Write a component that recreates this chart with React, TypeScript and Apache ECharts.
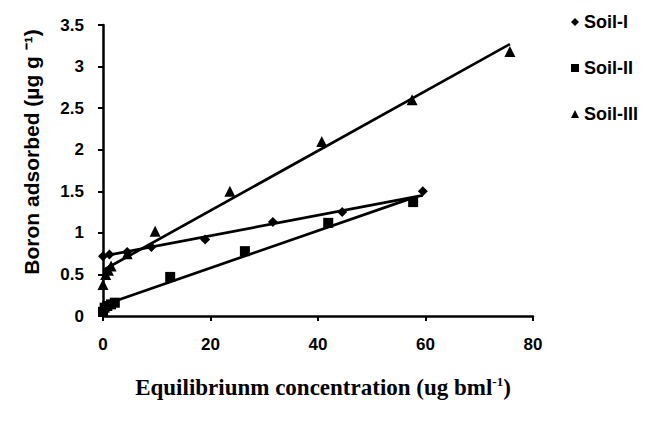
import React, { useEffect, useRef } from "react";
import * as echarts from "echarts";

const soil1X = [0, 1.2, 4.5, 9, 19, 31.6, 44.5, 59.5];
const soil1Y = [0.72, 0.74, 0.77, 0.83, 0.92, 1.13, 1.25, 1.5];
const soil2X = [0, 0.3, 0.8, 1.5, 2.2, 12.5, 26.4, 41.9, 57.7];
const soil2Y = [0.05, 0.1, 0.12, 0.14, 0.16, 0.47, 0.78, 1.12, 1.37];
const soil3X = [0, 0.5, 1, 1.5, 4.5, 9.7, 23.6, 40.7, 57.5, 75.7];
const soil3Y = [0.38, 0.5, 0.55, 0.6, 0.75, 1.02, 1.5, 2.1, 2.6, 3.18];
const fit1X = [0, 59.5];
const fit1Y = [0.72, 1.45];
const fit2X = [0, 58];
const fit2Y = [0.13, 1.43];
const fit3X = [0, 75.7];
const fit3Y = [0.55, 3.27];
const seriesNames = ["Soil-I", "Soil-II", "Soil-III"];
const xTicks = { min: 0, max: 80, interval: 20 };
const yTicks = { min: 0, max: 3.5, interval: 0.5 };
const yTitle = "Boron adsorbed (µg g ⁻¹)";

const zip = (xs: number[], ys: number[]) => xs.map((x, i) => [x, ys[i]]);

export default function App() {
  const ref = useRef<HTMLDivElement>(null);
  useEffect(() => {
    if (!ref.current) return;
    const chart = echarts.init(ref.current, null, { renderer: "svg" });
    const lineSeries = (data: number[][]) => ({
      type: "line",
      data,
      symbol: "none",
      lineStyle: { color: "#000", width: 2.7 },
      silent: true,
      z: 1,
    });
    chart.setOption({
      animation: false,
      backgroundColor: "#fff",
      grid: { left: 103, right: 114, top: 25, bottom: 105 },
      legend: {
        data: seriesNames,
        orient: "vertical",
        left: 566,
        top: 8,
        itemGap: 28,
        itemWidth: 8,
        itemHeight: 8,
        textStyle: {
          fontFamily: "Liberation Sans",
          fontWeight: "bold",
          fontSize: 18,
          color: "#000",
        },
      },
      graphic: [
        {
          type: "text",
          x: 31,
          y: 152,
          rotation: Math.PI / 2,
          style: {
            text: yTitle,
            fill: "#000",
            font: "bold 21px 'Liberation Sans'",
            align: "center",
            verticalAlign: "middle",
          },
        },
      ],
      xAxis: {
        type: "value",
        min: xTicks.min,
        max: xTicks.max,
        interval: xTicks.interval,
        axisLine: { lineStyle: { color: "#000", width: 2.5 } },
        axisTick: { show: true, length: 5, lineStyle: { color: "#000", width: 2 } },
        splitLine: { show: false },
        axisLabel: {
          color: "#000",
          fontFamily: "Liberation Sans",
          fontWeight: "bold",
          fontSize: 17,
          margin: 20,
        },
        name: "Equilibriunm concentration (ug bml{sup|-1})",
        nameLocation: "middle",
        nameGap: 59,
        nameTextStyle: {
          color: "#000",
          fontFamily: "Liberation Serif",
          fontWeight: "bold",
          fontSize: 23,
          padding: [0, 0, 0, 10],
          rich: {
            sup: {
              fontFamily: "Liberation Serif",
              fontWeight: "bold",
              fontSize: 13,
              verticalAlign: "top",
              padding: [0, 0, 12, 0],
            },
          },
        },
      },
      yAxis: {
        type: "value",
        min: yTicks.min,
        max: yTicks.max,
        interval: yTicks.interval,
        axisLine: { show: true, lineStyle: { color: "#000", width: 2.5 } },
        axisTick: { show: true, length: 5, lineStyle: { color: "#000", width: 2 } },
        splitLine: { show: false },
        axisLabel: {
          color: "#000",
          fontFamily: "Liberation Sans",
          fontWeight: "bold",
          fontSize: 17,
          margin: 19,
        },
      },
      series: [
        {
          name: seriesNames[0],
          type: "scatter",
          symbol: "diamond",
          symbolSize: 10,
          itemStyle: { color: "#000", opacity: 1 },
          data: zip(soil1X, soil1Y),
          z: 3,
        },
        {
          name: seriesNames[1],
          type: "scatter",
          symbol: "rect",
          symbolSize: 10,
          itemStyle: { color: "#000", opacity: 1 },
          data: zip(soil2X, soil2Y),
          z: 3,
        },
        {
          name: seriesNames[2],
          type: "scatter",
          symbol: "triangle",
          symbolSize: 11,
          itemStyle: { color: "#000", opacity: 1 },
          data: zip(soil3X, soil3Y),
          z: 3,
        },
        lineSeries(zip(fit1X, fit1Y)),
        lineSeries(zip(fit2X, fit2Y)),
        lineSeries(zip(fit3X, fit3Y)),
      ],
    });
    return () => chart.dispose();
  }, []);
  return <div ref={ref} style={{ width: 647, height: 421, position: "absolute", left: 0, top: 0 }} />;
}
